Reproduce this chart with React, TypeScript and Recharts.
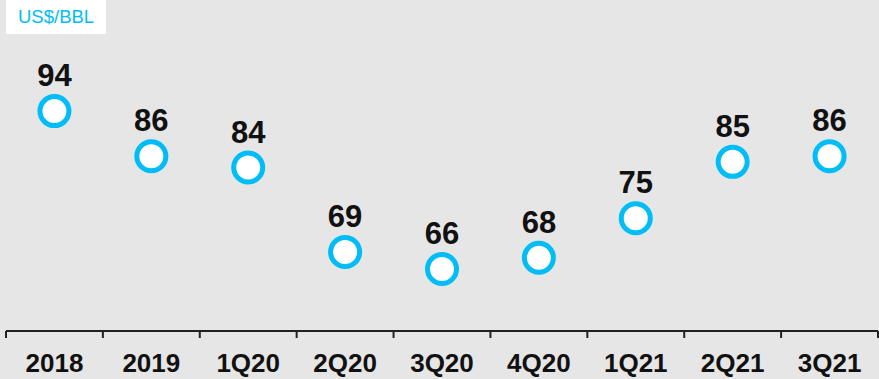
// Oil price chart — quarterly US$/BBL as hollow cyan markers with value labels.
import { LineChart, Line, XAxis, YAxis, LabelList } from 'recharts';

const periods = ['2018', '2019', '1Q20', '2Q20', '3Q20', '4Q20', '1Q21', '2Q21', '3Q21'];
const prices = [94, 86, 84, 69, 66, 68, 75, 85, 86];
const unitLabel = 'US$/BBL';

const CYAN = '#00bdf7';
const BG = '#e6e6e6';
const FONT = '"Liberation Sans", Arial, sans-serif';

const W = 879;
const H = 379;
const MARGIN = { top: 4, right: 1, bottom: 0, left: 6 };
const PLOT_W = W - MARGIN.left - MARGIN.right;
const STEP = PLOT_W / periods.length;

const data = periods.map((p, i) => ({ period: p, price: prices[i] }));

function BoundaryTick(props: any) {
  const { x, y, payload, index } = props;
  const left = x - STEP / 2;
  const right = x + STEP / 2;
  return (
    <g>
      <line x1={left} y1={y} x2={left} y2={y + 7} stroke="#222" strokeWidth={2} />
      {index === periods.length - 1 && (
        <line x1={right} y1={y} x2={right} y2={y + 7} stroke="#222" strokeWidth={2} />
      )}
      <text
        x={x}
        y={y + 41}
        textAnchor="middle"
        fontFamily={FONT}
        fontWeight="bold"
        fontSize={26}
        fill="#111"
      >
        {payload.value}
      </text>
    </g>
  );
}

export default function App() {
  return (
    <div
      style={{
        position: 'absolute',
        left: 0,
        top: 0,
        width: W,
        height: H,
        background: BG,
        overflow: 'hidden',
      }}
    >
      <div
        style={{
          position: 'absolute',
          left: 6,
          top: 0,
          width: 100,
          height: 34,
          background: '#fff',
          color: CYAN,
          fontFamily: FONT,
          fontSize: 18.5,
          lineHeight: '34px',
          paddingLeft: 12,
          boxSizing: 'border-box',
        }}
      >
        {unitLabel}
      </div>
      <LineChart width={W} height={H} data={data} margin={MARGIN}>
        <XAxis
          dataKey="period"
          scale="band"
          height={48}
          axisLine={{ stroke: '#222', strokeWidth: 2 }}
          tickLine={false}
          tickSize={0}
          tickMargin={0}
          interval={0}
          tick={<BoundaryTick />}
        />
        <YAxis hide domain={[55, 113]} />
        <Line
          dataKey="price"
          stroke="none"
          isAnimationActive={false}
          dot={{ r: 14.5, stroke: CYAN, strokeWidth: 5, fill: '#fff' }}
          activeDot={false}
        >
          <LabelList
            dataKey="price"
            position="top"
            offset={25}
            fill="#111"
            fontFamily={FONT}
            fontWeight="bold"
            fontSize={31}
          />
        </Line>
      </LineChart>
    </div>
  );
}
